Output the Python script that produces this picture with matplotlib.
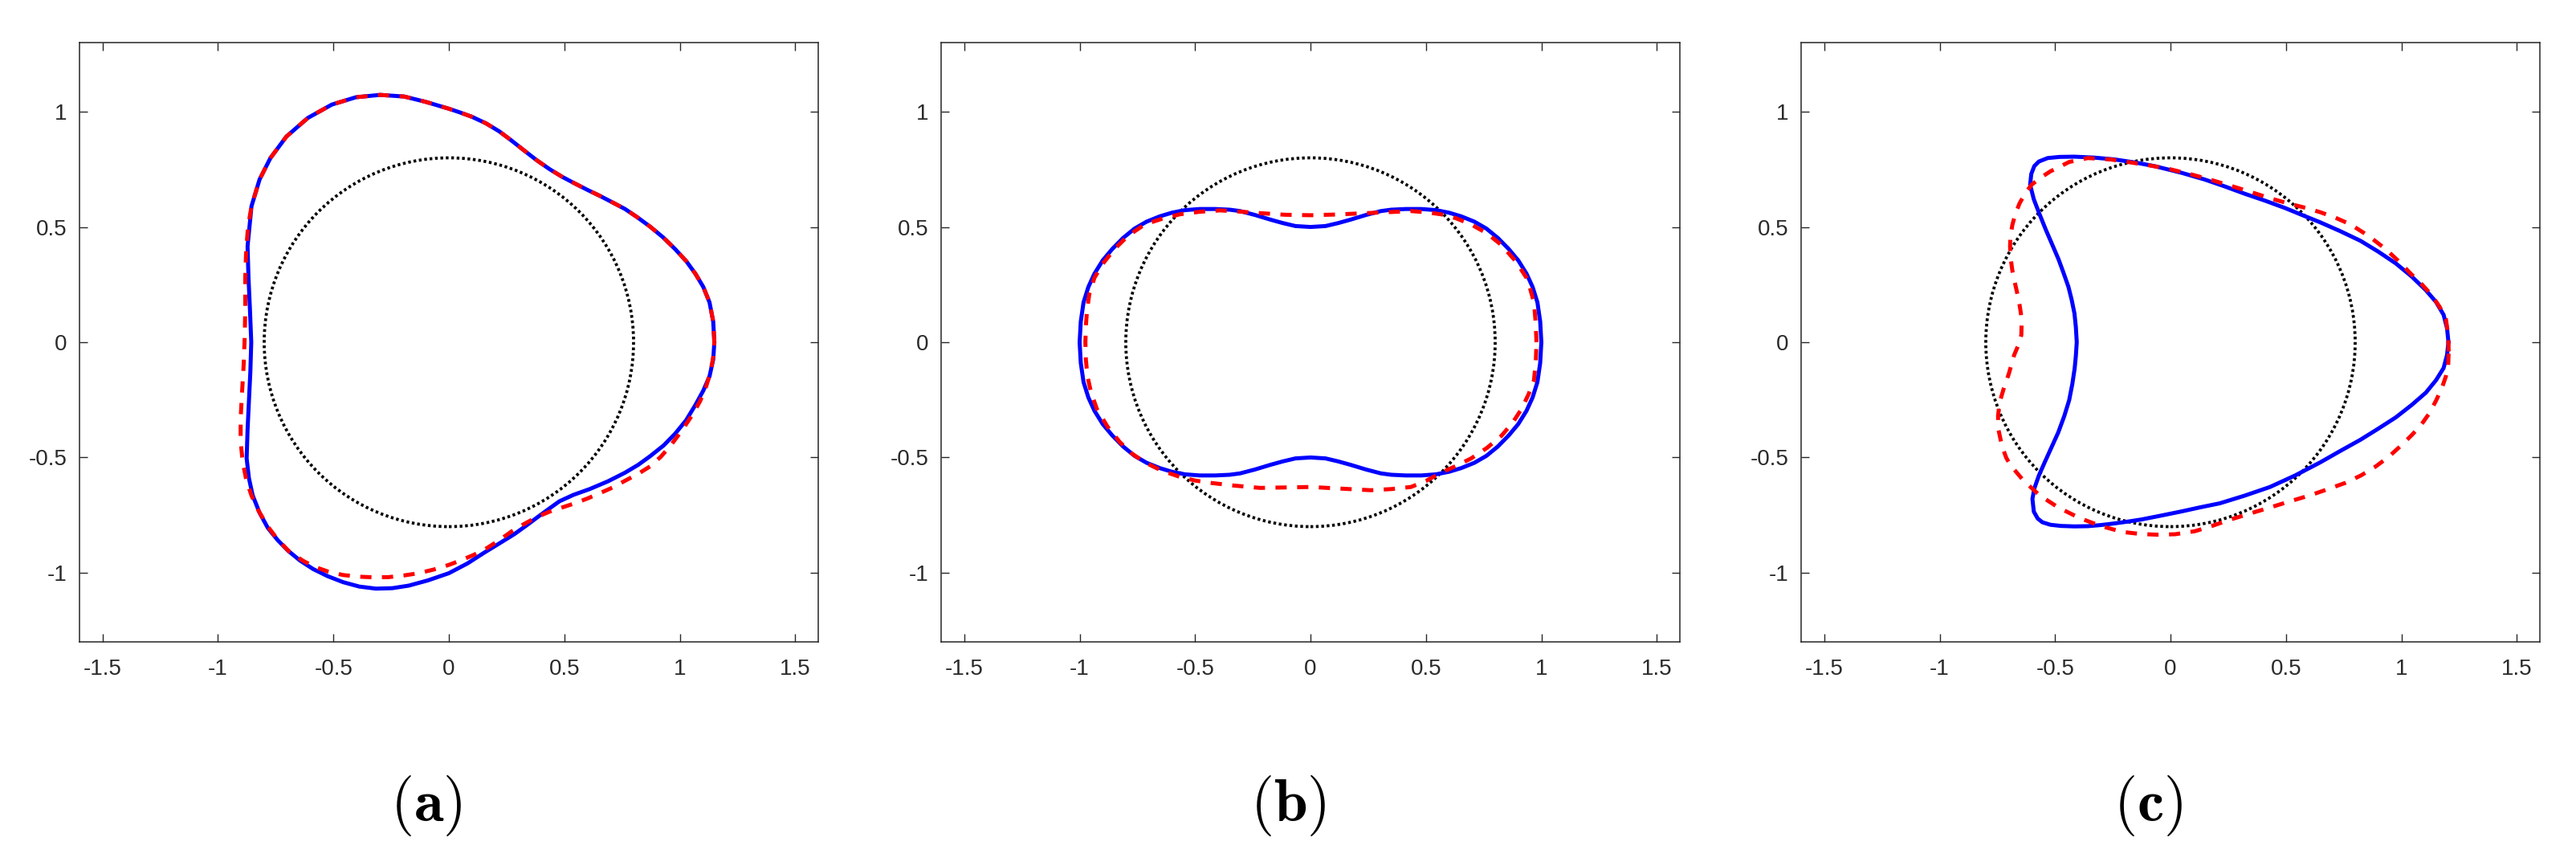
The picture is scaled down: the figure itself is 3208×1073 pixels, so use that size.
import matplotlib
matplotlib.use("Agg")
import matplotlib.pyplot as plt
from matplotlib.patches import Circle

plt.rcParams['axes.unicode_minus'] = False
plt.rcParams['mathtext.fontset'] = 'cm'

# ---------------- data ----------------
circle_radius = 0.8

# panel (a)
a_blue_x = [1.150, 1.145, 1.129, 1.102, 1.068, 1.028, 0.980, 0.928, 0.871, 0.815, 0.763, 0.708, 0.654,
            0.600, 0.545, 0.490, 0.436, 0.380, 0.327, 0.270, 0.218, 0.160, 0.100, 0.045, 0.000, -0.101,
            -0.194, -0.298, -0.402, -0.507, -0.611, -0.704, -0.773, -0.820, -0.855, -0.872, -0.868,
            -0.862, -0.856, -0.860, -0.866, -0.872, -0.876, -0.866, -0.850, -0.820, -0.784, -0.742,
            -0.697, -0.645, -0.588, -0.525, -0.458, -0.388, -0.316, -0.245, -0.174, -0.090, 0.000,
            0.080, 0.153, 0.220, 0.283, 0.340, 0.392, 0.440, 0.479, 0.540, 0.610, 0.690, 0.763, 0.820,
            0.871, 0.930, 0.980, 1.028, 1.068, 1.102, 1.129, 1.145, 1.150]
a_blue_y = [0.000, 0.090, 0.173, 0.240, 0.297, 0.352, 0.404, 0.455, 0.502, 0.543, 0.578, 0.607, 0.635,
            0.661, 0.689, 0.718, 0.751, 0.790, 0.831, 0.876, 0.915, 0.950, 0.978, 0.998, 1.013, 1.043,
            1.066, 1.073, 1.063, 1.031, 0.973, 0.892, 0.799, 0.706, 0.590, 0.416, 0.280,
            0.149, 0.000, -0.130, -0.254, -0.380, -0.504, -0.590, -0.664, -0.740, -0.806, -0.858,
            -0.904, -0.947, -0.984, -1.015, -1.041, -1.060, -1.069, -1.067, -1.056, -1.033, -1.002,
            -0.960, -0.913, -0.872, -0.833, -0.792, -0.753, -0.718, -0.690, -0.662, -0.637, -0.603, -0.566, -0.532,
            -0.495, -0.448, -0.397, -0.338, -0.272, -0.210, -0.148, -0.075, 0.000]

a_red_x = [1.150, 1.145, 1.129, 1.102, 1.068, 1.028, 0.980, 0.928, 0.871, 0.815, 0.763, 0.708, 0.654,
           0.600, 0.545, 0.490, 0.436, 0.380, 0.327, 0.270, 0.218, 0.160, 0.100, 0.045, 0.000, -0.101,
           -0.194, -0.298, -0.402, -0.507, -0.611, -0.704, -0.773, -0.820, -0.855, -0.870, -0.878,
           -0.882, -0.882, -0.884, -0.889, -0.896, -0.902, -0.902, -0.893, -0.877, -0.855, -0.825,
           -0.784, -0.740, -0.690, -0.632, -0.580, -0.523, -0.458, -0.392, -0.326, -0.261, -0.196,
           -0.131, -0.065, 0.000, 0.055, 0.109, 0.165, 0.218, 0.270, 0.327, 0.380, 0.436, 0.490,
           0.545, 0.600, 0.654, 0.710, 0.763, 0.820, 0.871, 0.918, 0.959, 0.993, 1.024, 1.058, 1.089,
           1.115, 1.133, 1.145, 1.150]
a_red_y = [0.000, 0.090, 0.173, 0.240, 0.297, 0.352, 0.404, 0.455, 0.502, 0.543, 0.578, 0.607, 0.635,
           0.661, 0.689, 0.718, 0.751, 0.790, 0.831, 0.876, 0.915, 0.950, 0.978, 0.998, 1.013, 1.043,
           1.066, 1.073, 1.063, 1.031, 0.973, 0.892, 0.799, 0.706, 0.590, 0.500, 0.400,
           0.279, 0.150, 0.030, -0.100, -0.220, -0.330, -0.430, -0.520, -0.600, -0.665, -0.730,
           -0.800, -0.858, -0.910, -0.948, -0.975, -0.995, -1.010, -1.017, -1.020, -1.019, -1.012,
           -1.002, -0.986, -0.966, -0.945, -0.922, -0.893, -0.859, -0.822, -0.788, -0.759, -0.735, -0.717,
           -0.699, -0.678, -0.655, -0.630, -0.601, -0.571, -0.539, -0.497, -0.450, -0.405, -0.361, -0.310, -0.254,
           -0.190, -0.130, -0.065, 0.000]

# panel (b)
b_blue_x = [1.000, 0.995, 0.983, 0.962, 0.936, 0.900, 0.859, 0.812, 0.762, 0.710, 0.653, 0.600, 0.544,
            0.480, 0.413, 0.350, 0.305, 0.240, 0.174, 0.120, 0.065, 0.000,
            -0.065, -0.120, -0.174, -0.240, -0.305, -0.350, -0.413, -0.480, -0.544, -0.600, -0.653,
            -0.710, -0.762, -0.812, -0.859, -0.900, -0.936, -0.962, -0.983, -0.995, -1.000,
            -0.995, -0.983, -0.962, -0.936, -0.900, -0.859, -0.812, -0.762, -0.710, -0.653, -0.600, -0.544,
            -0.480, -0.413, -0.350, -0.305, -0.240, -0.174, -0.120, -0.065, 0.000,
            0.065, 0.120, 0.174, 0.240, 0.305, 0.350, 0.413, 0.480, 0.544, 0.600, 0.653,
            0.710, 0.762, 0.812, 0.859, 0.900, 0.936, 0.962, 0.983, 0.995, 1.000]
b_blue_y = [0.000, 0.090, 0.173, 0.240, 0.297, 0.355, 0.404, 0.452, 0.493, 0.523, 0.546, 0.562, 0.573,
            0.578, 0.578, 0.575, 0.569, 0.552, 0.532, 0.517, 0.504, 0.500,
            0.504, 0.517, 0.532, 0.552, 0.569, 0.575, 0.578, 0.578, 0.573, 0.562, 0.546,
            0.523, 0.493, 0.452, 0.404, 0.355, 0.297, 0.240, 0.173, 0.090, 0.000,
            -0.090, -0.173, -0.240, -0.297, -0.355, -0.404, -0.452, -0.493, -0.523, -0.546, -0.562, -0.573,
            -0.578, -0.578, -0.575, -0.569, -0.552, -0.532, -0.517, -0.504, -0.500,
            -0.504, -0.517, -0.532, -0.552, -0.569, -0.575, -0.578, -0.578, -0.573, -0.562, -0.546,
            -0.523, -0.493, -0.452, -0.404, -0.355, -0.297, -0.240, -0.173, -0.090, 0.000]

b_red_x = [0.979, 0.975, 0.968, 0.952, 0.936, 0.890, 0.827, 0.765, 0.696, 0.630, 0.566, 0.500, 0.435,
           0.330, 0.218, 0.110, 0.000, -0.110, -0.218, -0.310, -0.392, -0.480, -0.566, -0.645, -0.718,
           -0.790, -0.849, -0.900, -0.936, -0.958, -0.968, -0.973, -0.975, -0.973, -0.966, -0.950,
           -0.925, -0.880, -0.827, -0.775, -0.718, -0.645, -0.566, -0.500, -0.435, -0.330, -0.218,
           -0.110, 0.000, 0.130, 0.261, 0.350, 0.435, 0.500, 0.566, 0.630, 0.696, 0.765, 0.827, 0.875,
           0.914, 0.945, 0.968, 0.976, 0.979]
b_red_y = [0.000, 0.090, 0.173, 0.230, 0.279, 0.350, 0.422, 0.472, 0.511, 0.538, 0.555, 0.564, 0.569,
           0.564, 0.559, 0.554, 0.551, 0.553, 0.560, 0.567, 0.572, 0.566, 0.555, 0.535, 0.511,
           0.462, 0.404, 0.340, 0.279, 0.210, 0.137, 0.070, 0.000, -0.075, -0.148, -0.220,
           -0.290, -0.365, -0.432, -0.482, -0.521, -0.557, -0.584, -0.600, -0.610, -0.622, -0.632,
           -0.630, -0.628, -0.635, -0.642, -0.637, -0.628, -0.602, -0.566, -0.537, -0.504, -0.458, -0.406, -0.350,
           -0.290, -0.225, -0.165, -0.085, 0.000]

# panel (c)
c_blue_x = [1.204, 1.198, 1.183, 1.150, 1.106, 1.045, 0.976, 0.900, 0.823, 0.735, 0.649, 0.570, 0.497,
            0.410, 0.322, 0.235, 0.148, 0.048, -0.069, -0.155, -0.242, -0.331, -0.416, -0.480, -0.532,
            -0.570, -0.590, -0.603, -0.608, -0.592, -0.567, -0.540, -0.509, -0.485, -0.463, -0.442,
            -0.428, -0.416, -0.410, -0.406, -0.410, -0.415, -0.425, -0.439, -0.460, -0.486, -0.515,
            -0.544, -0.570, -0.590, -0.598, -0.592, -0.575, -0.555, -0.520, -0.474, -0.416, -0.358,
            -0.300, -0.242, -0.184, -0.126, -0.040, 0.048, 0.130, 0.213, 0.320, 0.431, 0.540, 0.649,
            0.735, 0.823, 0.900, 0.976, 1.045, 1.106, 1.150, 1.183, 1.198, 1.204]
c_blue_y = [0.000, 0.060, 0.119, 0.175, 0.226, 0.285, 0.342, 0.393, 0.440, 0.482, 0.520, 0.552, 0.582,
            0.614, 0.644, 0.676, 0.706, 0.735, 0.764, 0.780, 0.793, 0.801, 0.805, 0.804, 0.799,
            0.784, 0.764, 0.730, 0.683, 0.620, 0.555, 0.488, 0.416, 0.360, 0.300, 0.240,
            0.184, 0.125, 0.067, 0.000, -0.060, -0.113, -0.180, -0.252, -0.320, -0.391, -0.455,
            -0.519, -0.578, -0.635, -0.680, -0.735, -0.765, -0.781, -0.792, -0.797, -0.799, -0.798,
            -0.793, -0.786, -0.778, -0.769, -0.752, -0.734, -0.716, -0.699, -0.666, -0.628, -0.578, -0.521,
            -0.472, -0.423, -0.375, -0.326, -0.272, -0.219, -0.165, -0.112, -0.055, 0.000]

c_red_x = [1.205, 1.203, 1.193, 1.165, 1.128, 1.088, 1.041, 0.990, 0.932, 0.860, 0.780, 0.715, 0.649,
           0.585, 0.518, 0.430, 0.344, 0.257, 0.170, 0.083, -0.004, -0.090, -0.179, -0.260, -0.358,
           -0.439, -0.521, -0.565, -0.602, -0.630, -0.654, -0.672, -0.685, -0.693, -0.695, -0.692,
           -0.685, -0.675, -0.665, -0.655, -0.648, -0.645, -0.646, -0.660, -0.677, -0.700, -0.722,
           -0.740, -0.747, -0.745, -0.730, -0.712, -0.695, -0.637, -0.567, -0.486, -0.393, -0.300,
           -0.208, -0.130, -0.057, 0.020, 0.105, 0.180, 0.257, 0.345, 0.431, 0.518, 0.605, 0.680,
           0.758, 0.825, 0.889, 0.945, 0.997, 1.043, 1.084, 1.120, 1.150, 1.175, 1.193, 1.203, 1.205]
c_red_y = [-0.040, 0.030, 0.101, 0.155, 0.208, 0.252, 0.297, 0.350, 0.404, 0.460, 0.511, 0.540, 0.564,
           0.583, 0.600, 0.625, 0.653, 0.680, 0.706, 0.730, 0.751, 0.767, 0.781, 0.793, 0.799,
           0.782, 0.741, 0.712, 0.683, 0.645, 0.602, 0.556, 0.509, 0.460, 0.416, 0.362,
           0.311, 0.262, 0.218, 0.170, 0.125, 0.080, 0.032, -0.015, -0.055, -0.136, -0.200,
           -0.260, -0.320, -0.380, -0.450, -0.500, -0.531, -0.600, -0.664, -0.717, -0.763, -0.798,
           -0.823, -0.832, -0.835, -0.833, -0.820, -0.797, -0.770, -0.743, -0.717, -0.690, -0.664, -0.638,
           -0.610, -0.578, -0.539, -0.497, -0.450, -0.405, -0.361, -0.310, -0.254, -0.200, -0.148, -0.100, -0.040]

panel_labels = ['a', 'b', 'c']
x_ticks = [-1.5, -1, -0.5, 0, 0.5, 1, 1.5]
x_ticklabels = ['-1.5', '-1', '-0.5', '0', '0.5', '1', '1.5']
y_ticks = [-1, -0.5, 0, 0.5, 1]
y_ticklabels = ['-1', '-0.5', '0', '0.5', '1']

panels = [
    (a_blue_x, a_blue_y, a_red_x, a_red_y),
    (b_blue_x, b_blue_y, b_red_x, b_red_y),
    (c_blue_x, c_blue_y, c_red_x, c_red_y),
]

# ---------------- figure ----------------
W, H = 3208, 1073
fig = plt.figure(figsize=(W / 100, H / 100), dpi=100)
fig.patch.set_facecolor('white')

lefts = [99, 1172, 2243]
ax_w, ax_top, ax_bot = 920, 53, 799
frame_col = '#262626'

for i, (bx, by, rx, ry) in enumerate(panels):
    ax = fig.add_axes([lefts[i] / W, 1 - ax_bot / H, ax_w / W, (ax_bot - ax_top) / H])
    ax.add_patch(Circle((0, 0), circle_radius, fill=False, edgecolor='black',
                        linestyle=(0, (0.9, 0.9)), linewidth=2.7, zorder=2))
    ax.plot(bx, by, color='#0000ff', linewidth=3.6, solid_joinstyle='round',
            solid_capstyle='round', zorder=3)
    ax.plot(rx, ry, color='#ff0000', linewidth=3.6, linestyle=(0, (2.8, 2.6)),
            dash_capstyle='butt', zorder=4)
    ax.set_xlim(-1.6, 1.6)
    ax.set_ylim(-1.3, 1.3)
    ax.set_xticks(x_ticks)
    ax.set_xticklabels(x_ticklabels)
    ax.set_yticks(y_ticks)
    ax.set_yticklabels(y_ticklabels)
    ax.tick_params(direction='in', length=7, width=1.0, color=frame_col,
                   top=True, right=True, labelsize=20, labelcolor='#2a2a2a')
    ax.tick_params(axis='x', pad=15)
    ax.tick_params(axis='y', pad=11)
    for lab in ax.get_xticklabels() + ax.get_yticklabels():
        lab.set_fontfamily('Liberation Sans')
    for s in ax.spines.values():
        s.set_color(frame_col)
        s.set_linewidth(1.1)
    cx = (lefts[i] + ax_w / 2 - 28) / W
    fig.text(cx, 1 - 1003 / H, r'$(\mathbf{' + panel_labels[i] + r'})$', ha='center', va='center',
             fontsize=54)

fig.savefig('out.png', dpi=100, facecolor='white')
